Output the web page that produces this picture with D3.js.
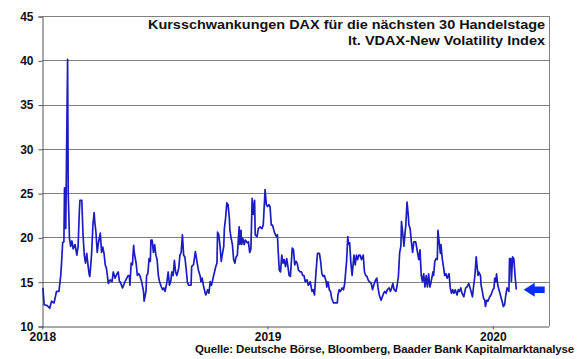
<!DOCTYPE html>
<html><head><meta charset="utf-8">
<script src="https://cdn.jsdelivr.net/npm/d3@7"></script>
<style>
body{margin:0;background:#fff}
svg{display:block;font-family:"Liberation Sans",Arial,Helvetica,sans-serif;font-weight:bold}
</style>
</head><body><svg id="c" width="580" height="359"></svg>
<script>
// VDAX-New daily level
const series = [
["2018-01-02",14.3],["2018-01-04",12.4],["2018-01-09",12.3],["2018-01-13",12.0],["2018-01-16",12.8],["2018-01-20",12.6],["2018-01-24",13.9],["2018-01-28",13.9],["2018-01-31",15.8],
["2018-02-01",16.9],["2018-02-03",19.4],["2018-02-05",19.5],["2018-02-06",25.6],["2018-02-08",21.0],["2018-02-11",40.1],["2018-02-12",25.0],["2018-02-14",19.9],["2018-02-16",19.0],["2018-02-18",19.6],["2018-02-20",18.7],["2018-02-23",19.2],["2018-02-26",18.0],["2018-02-28",19.0],
["2018-03-02",22.9],["2018-03-03",24.2],["2018-03-06",24.2],["2018-03-08",20.3],["2018-03-10",18.0],["2018-03-12",17.1],["2018-03-14",18.2],["2018-03-16",16.9],["2018-03-18",15.8],["2018-03-19",15.6],["2018-03-21",17.3],["2018-03-22",18.3],["2018-03-24",21.4],["2018-03-26",22.8],["2018-03-27",21.8],["2018-03-29",20.5],["2018-03-31",18.3],
["2018-04-02",19.4],["2018-04-05",20.5],["2018-04-07",18.3],["2018-04-09",18.9],["2018-04-11",18.2],["2018-04-13",16.9],["2018-04-15",16.5],["2018-04-18",14.8],["2018-04-21",15.2],["2018-04-24",15.0],["2018-04-26",16.1],["2018-04-29",15.4],
["2018-05-02",15.9],["2018-05-04",16.1],["2018-05-06",15.0],["2018-05-07",15.0],["2018-05-11",14.3],["2018-05-15",15.0],["2018-05-20",15.7],["2018-05-22",15.7],["2018-05-23",14.6],["2018-05-25",17.1],["2018-05-27",16.9],["2018-05-29",19.1],["2018-05-30",18.3],
["2018-06-02",17.1],["2018-06-04",15.7],["2018-06-06",15.9],["2018-06-08",15.7],["2018-06-11",15.0],["2018-06-14",13.9],["2018-06-15",12.8],["2018-06-18",13.9],["2018-06-19",15.7],["2018-06-21",15.9],["2018-06-23",17.6],["2018-06-25",17.3],["2018-06-26",19.7],["2018-06-28",19.7],["2018-06-30",18.3],
["2018-07-02",19.2],["2018-07-04",18.0],["2018-07-06",17.5],["2018-07-08",15.7],["2018-07-10",15.0],["2018-07-13",14.4],["2018-07-15",14.1],["2018-07-17",14.3],["2018-07-19",13.9],["2018-07-22",15.0],["2018-07-24",16.1],["2018-07-26",14.6],["2018-07-28",15.0],["2018-07-30",16.1],
["2018-08-01",15.7],["2018-08-03",17.4],["2018-08-05",16.1],["2018-08-07",15.7],["2018-08-10",16.5],["2018-08-12",18.0],["2018-08-14",18.3],["2018-08-16",20.3],["2018-08-18",18.0],["2018-08-20",17.8],["2018-08-22",16.5],["2018-08-24",15.0],["2018-08-26",14.6],["2018-08-30",14.6],["2018-08-31",16.7],
["2018-09-01",16.8],["2018-09-03",16.9],["2018-09-06",18.4],["2018-09-07",18.0],["2018-09-09",17.1],["2018-09-11",16.3],["2018-09-14",15.6],["2018-09-15",15.0],["2018-09-17",15.4],["2018-09-19",14.6],["2018-09-22",13.7],["2018-09-23",13.5],["2018-09-26",14.1],["2018-09-28",13.7],["2018-09-30",15.0],
["2018-10-02",14.6],["2018-10-04",15.2],["2018-10-07",16.1],["2018-10-09",16.7],["2018-10-11",17.1],["2018-10-12",20.6],["2018-10-14",20.3],["2018-10-16",19.0],["2018-10-18",17.3],["2018-10-19",17.8],["2018-10-22",19.0],["2018-10-23",21.0],["2018-10-25",22.2],["2018-10-27",23.9],["2018-10-29",23.7],["2018-10-31",22.2],
["2018-11-01",20.8],["2018-11-03",19.9],["2018-11-05",19.2],["2018-11-07",17.5],["2018-11-09",17.1],["2018-11-11",17.8],["2018-11-13",18.0],["2018-11-16",21.2],["2018-11-17",19.2],["2018-11-19",20.8],["2018-11-20",19.2],["2018-11-22",19.9],["2018-11-24",19.2],["2018-11-26",19.7],["2018-11-29",19.4],
["2018-12-01",19.5],["2018-12-03",18.3],["2018-12-05",18.7],["2018-12-07",24.4],["2018-12-09",22.6],["2018-12-11",24.2],["2018-12-12",20.3],["2018-12-15",20.1],["2018-12-17",21.0],["2018-12-20",21.2],["2018-12-23",21.0],["2018-12-25",21.4],["2018-12-28",25.4],["2018-12-30",23.7],
["2019-01-01",23.5],["2019-01-03",23.7],["2019-01-05",23.5],["2019-01-07",21.4],["2019-01-09",21.4],["2019-01-12",20.6],["2019-01-15",20.1],["2019-01-17",20.3],["2019-01-18",18.7],["2019-01-20",16.3],["2019-01-22",16.1],["2019-01-24",18.0],["2019-01-26",17.1],["2019-01-28",17.5],["2019-01-30",16.7],
["2019-02-01",17.6],["2019-02-03",16.7],["2019-02-05",15.7],["2019-02-07",15.6],["2019-02-10",18.8],["2019-02-12",18.6],["2019-02-14",16.9],["2019-02-16",17.3],["2019-02-18",17.1],["2019-02-20",16.3],["2019-02-23",16.1],["2019-02-25",16.1],["2019-02-27",15.7],
["2019-03-01",15.7],["2019-03-03",15.0],["2019-03-06",15.2],["2019-03-08",14.6],["2019-03-11",15.0],["2019-03-14",13.9],["2019-03-16",14.1],["2019-03-18",13.5],["2019-03-20",15.6],["2019-03-22",17.5],["2019-03-23",18.2],["2019-03-26",18.2],["2019-03-28",17.3],["2019-03-30",15.9],
["2019-04-01",15.6],["2019-04-03",15.7],["2019-04-06",15.0],["2019-04-07",14.4],["2019-04-09",15.0],["2019-04-11",14.1],["2019-04-13",13.9],["2019-04-15",13.1],["2019-04-18",12.6],["2019-04-21",12.6],["2019-04-24",12.6],["2019-04-25",13.5],["2019-04-27",14.1],["2019-04-29",13.9],
["2019-05-02",14.3],["2019-05-04",14.1],["2019-05-06",14.8],["2019-05-09",17.3],["2019-05-11",20.1],["2019-05-12",19.2],["2019-05-14",19.4],["2019-05-16",17.1],["2019-05-18",15.7],["2019-05-19",16.5],["2019-05-21",18.0],["2019-05-23",16.9],["2019-05-25",18.0],["2019-05-27",17.5],["2019-05-29",18.0],["2019-05-31",18.0],
["2019-06-02",17.5],["2019-06-05",18.0],["2019-06-07",16.1],["2019-06-09",15.7],["2019-06-11",15.6],["2019-06-13",15.2],["2019-06-15",15.0],["2019-06-18",14.8],["2019-06-20",14.1],["2019-06-22",14.6],["2019-06-25",15.2],["2019-06-27",15.4],["2019-06-29",14.3],
["2019-07-01",13.5],["2019-07-04",12.9],["2019-07-06",13.3],["2019-07-08",13.7],["2019-07-10",13.9],["2019-07-12",13.7],["2019-07-14",14.1],["2019-07-17",14.3],["2019-07-19",13.9],["2019-07-21",14.3],["2019-07-23",14.8],["2019-07-25",14.1],["2019-07-28",13.9],["2019-07-30",14.6],
["2019-08-01",15.6],["2019-08-03",18.3],["2019-08-05",19.0],["2019-08-06",21.8],["2019-08-08",20.5],["2019-08-10",19.0],["2019-08-11",19.9],["2019-08-13",21.4],["2019-08-15",24.0],["2019-08-17",22.5],["2019-08-18",21.4],["2019-08-20",21.0],["2019-08-22",19.5],["2019-08-24",18.3],["2019-08-26",19.5],["2019-08-29",19.5],
["2019-09-01",18.3],["2019-09-03",17.5],["2019-09-05",18.6],["2019-09-07",15.7],["2019-09-09",15.0],["2019-09-11",15.9],["2019-09-13",14.4],["2019-09-15",15.7],["2019-09-17",14.4],["2019-09-19",15.9],["2019-09-21",14.4],["2019-09-23",15.0],["2019-09-26",16.1],["2019-09-27",15.7],["2019-09-29",17.3],
["2019-10-01",17.6],["2019-10-03",17.5],["2019-10-04",20.8],["2019-10-06",19.5],["2019-10-08",18.2],["2019-10-09",19.2],["2019-10-11",17.6],["2019-10-13",16.7],["2019-10-15",15.7],["2019-10-17",15.9],["2019-10-19",15.4],["2019-10-22",15.9],["2019-10-24",14.3],["2019-10-26",13.7],["2019-10-28",14.1],["2019-10-30",13.7],
["2019-11-01",14.1],["2019-11-04",13.5],["2019-11-06",14.1],["2019-11-08",13.9],["2019-11-10",14.3],["2019-11-12",13.7],["2019-11-15",13.3],["2019-11-18",14.3],["2019-11-20",14.4],["2019-11-23",14.8],["2019-11-26",14.1],["2019-11-29",13.3],
["2019-12-01",14.6],["2019-12-03",15.7],["2019-12-05",17.8],["2019-12-06",17.1],["2019-12-08",15.7],["2019-12-09",16.1],["2019-12-12",15.7],["2019-12-13",14.6],["2019-12-15",13.9],["2019-12-17",13.1],["2019-12-19",12.9],["2019-12-20",12.2],["2019-12-22",12.9],["2019-12-24",12.8],["2019-12-27",13.3],["2019-12-29",13.5],
["2020-01-01",14.1],["2020-01-03",14.3],["2020-01-04",15.4],["2020-01-06",15.0],["2020-01-07",15.9],["2020-01-09",14.6],["2020-01-11",14.1],["2020-01-14",13.3],["2020-01-16",12.8],["2020-01-18",12.2],["2020-01-20",12.4],["2020-01-22",13.5],["2020-01-24",14.3],["2020-01-27",13.9],["2020-01-28",17.6],["2020-01-30",17.6],["2020-01-31",15.0],
["2020-02-02",17.8],["2020-02-04",17.6],["2020-02-06",15.7],["2020-02-08",14.1]
];
const yTicks = [10, 15, 20, 25, 30, 35, 40, 45];
const xTickYears = ["2018", "2019", "2020"];
const xDomain = ["2018-01-01", "2020-04-01"];
const titleLines = ["Kursschwankungen DAX für die nächsten 30 Handelstage", "lt. VDAX-New Volatility Index"];
const sourceText = "Quelle: Deutsche Börse, Bloomberg, Baader Bank Kapitalmarktanalyse";

const parse = d3.timeParse("%Y-%m-%d");
const data = series.map(([d, v]) => ({date: parse(d), v}));

const L = 42.3, R = 549, T = 16, B = 326;
const svg = d3.select("#c");
const x = d3.scaleTime().domain(xDomain.map(parse)).range([L, R]);
const y = d3.scaleLinear().domain([10, 45]).range([B, T]);

// gridlines
svg.append("g").selectAll("line").data(yTicks.filter(t => t > 10)).join("line")
  .attr("x1", L).attr("x2", R)
  .attr("y1", d => Math.round(y(d)) + 0.5).attr("y2", d => Math.round(y(d)) + 0.5)
  .attr("stroke", "#7f7f7f").attr("stroke-width", 1);

// right border
svg.append("line").attr("x1", Math.round(R) + 0.5).attr("x2", Math.round(R) + 0.5)
  .attr("y1", T).attr("y2", B).attr("stroke", "#7f7f7f");

// y axis
const yAxis = d3.axisLeft(y).tickValues(yTicks).tickSize(4).tickPadding(5).tickFormat(d3.format("d"));
const gy = svg.append("g").attr("transform", `translate(${Math.round(L) + 0.5},0.5)`).call(yAxis);
gy.select(".domain").attr("stroke", "#555");
gy.selectAll(".tick line").attr("stroke", "#555");
gy.selectAll(".tick text").attr("font-size", 12).attr("font-weight", "bold")
  .attr("font-family", '"Liberation Sans",Arial,sans-serif').attr("fill", "#111");

// x axis
const yearDates = xTickYears.map(s => parse(s + "-01-01"));
const xAxis = d3.axisBottom(x).tickValues(yearDates).tickSize(3).tickPadding(3).tickFormat(d3.timeFormat("%Y")).tickSizeOuter(0);
const gx = svg.append("g").attr("transform", `translate(0,${Math.round(B) + 0.5})`).call(xAxis);
gx.select(".domain").attr("stroke", "#555");
gx.selectAll(".tick line").attr("stroke", "#555");
gx.selectAll(".tick text").attr("font-size", 12).attr("font-weight", "bold")
  .attr("font-family", '"Liberation Sans",Arial,sans-serif').attr("fill", "#111");

// line
const line = d3.line().x(d => x(d.date)).y(d => y(d.v));
svg.append("path").datum(data).attr("d", line)
  .attr("fill", "none").attr("stroke", "#1c1cc4").attr("stroke-width", 1.7)
  .attr("stroke-linejoin", "round");

// arrow marking latest level
const last = data[data.length - 1];
const ay = y(last.v);
const ax0 = x(parse("2020-02-20"));
svg.append("path")
  .attr("d", `M${ax0},${ay} L${ax0 + 11},${ay - 7} L${ax0 + 11},${ay - 3.3} L${ax0 + 21},${ay - 3.3} L${ax0 + 21},${ay + 3.3} L${ax0 + 11},${ay + 3.3} L${ax0 + 11},${ay + 7} Z`)
  .attr("fill", "#0a2cff");

// title
const title = svg.append("text").attr("text-anchor", "end").attr("font-size", 13).attr("fill", "#111");
title.append("tspan").attr("x", 545).attr("y", 29).attr("textLength", 397).attr("lengthAdjust", "spacingAndGlyphs").text(titleLines[0]);
title.append("tspan").attr("x", 545).attr("y", 45).attr("textLength", 197).attr("lengthAdjust", "spacingAndGlyphs").text(titleLines[1]);

// source: fit to target width by adjusting letter spacing
const src = svg.append("text").attr("x", 574).attr("y", 353).attr("text-anchor", "end")
  .attr("font-size", 11.5).attr("fill", "#111").text(sourceText);
const w0 = src.node().getComputedTextLength();
src.attr("letter-spacing", ((379 - w0) / sourceText.length).toFixed(3) + "px");
</script>
</body></html>
